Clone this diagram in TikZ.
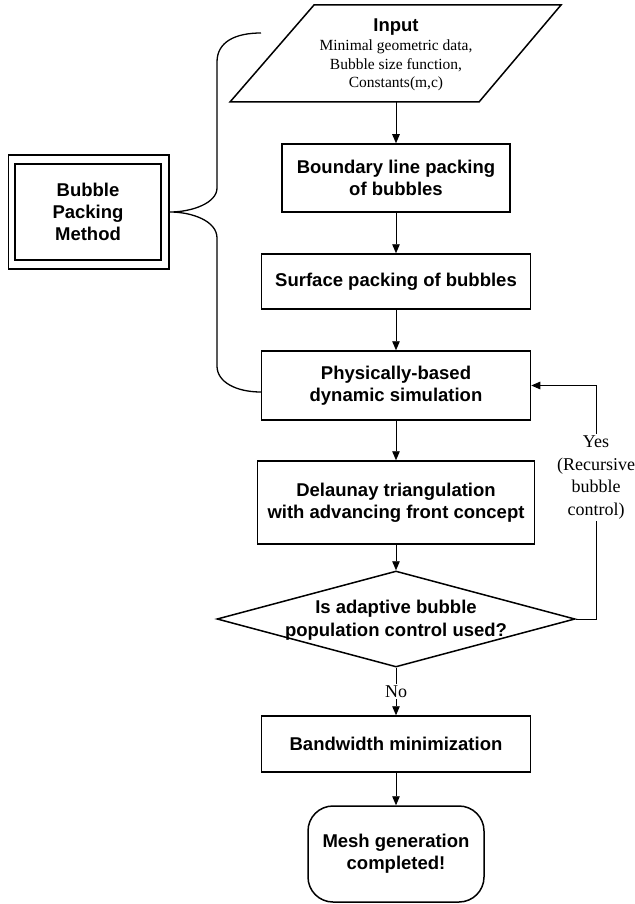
\documentclass[tikz,border=0pt]{standalone}
\usepackage{fontspec}
\setmainfont{Liberation Serif}
\newfontfamily\arialf{Liberation Sans}
\usetikzlibrary{shapes.geometric,arrows.meta}
\begin{document}
\begin{tikzpicture}[x=1pt,y=-1pt,
  boldtxt/.style={font=\arialf\bfseries\fontsize{18.5}{22}\selectfont, align=center},
  box/.style={draw, line width=1.5pt, boldtxt, inner sep=0pt},
  arr/.style={line width=0.9pt, -{Triangle[length=9pt,width=7.5pt]}},
  lbl/.style={font=\fontsize{18}{22.7}\selectfont, align=center, fill=white, inner sep=1.5pt},
  brace/.style={line width=1.3pt}]
\useasboundingbox (0,0) rectangle (634,904);

% input parallelogram
\draw[line width=1.5pt] (314,5) -- (561,5) -- (479,102) -- (230,102) -- cycle;
\node[align=center, font=\fontsize{15.5}{18.5}\selectfont] (input) at (396,55)
  {{\arialf\bfseries\fontsize{18.5}{22}\selectfont Input}\\[1pt]
   Minimal geometric data,\\Bubble size function,\\Constants(m,c)};
\coordinate (inbot) at (396,102);

% process boxes
\node[box, minimum width=228pt, minimum height=68pt] (bound) at (396,178) {Boundary line packing\\of bubbles};
\node[box, minimum width=269pt, minimum height=55pt] (surf) at (396,281.5) {Surface packing of bubbles};
\node[box, minimum width=269pt, minimum height=69pt] (phys) at (396,385.5) {Physically-based\\dynamic simulation};
\node[box, minimum width=277pt, minimum height=83pt] (dela) at (396,502.5) {Delaunay triangulation\\with advancing front concept};
\node[draw, diamond, line width=1.5pt, minimum width=358pt, minimum height=96pt, inner sep=0pt] (dec) at (396,619) {};
\node[boldtxt, font=\arialf\bfseries\fontsize{18.5}{23.5}\selectfont] (dectxt) at (396,620) {Is adaptive bubble\\population control used?};
\node[box, minimum width=269pt, minimum height=56pt] (band) at (396,744) {Bandwidth minimization};
\node[box, rounded corners=25pt, minimum width=176pt, minimum height=96pt] (mesh) at (396,854) {Mesh generation\\completed!};

% bubble packing method box (double frame)
\node[box, minimum width=146pt, minimum height=96pt] (bpm) at (88,212) {Bubble\\Packing\\Method};
\draw[line width=1.5pt] ([shift={(-6,-8)}]bpm.north west) rectangle ([shift={(7,8)}]bpm.south east);

% brace
\draw[brace] (261,33) .. controls (235,33) and (217,42) .. (217,62) -- (217,188)
  .. controls (217,203) and (192,212) .. (170,212)
  .. controls (192,212) and (217,221) .. (217,238) -- (217,366)
  .. controls (217,382) and (236,392) .. (261,392);

% connectors
\draw[arr] (inbot) -- (bound);
\draw[arr] (bound) -- (surf);
\draw[arr] (surf) -- (phys);
\draw[arr] (phys) -- (dela);
\draw[arr] (dela) -- (dec);
\draw[arr] (dec) -- node[lbl] (no) {No} (band);
\draw[arr] (band) -- (mesh);
\coordinate (yc) at (596,619);
\draw[arr] (dec.east) -- (yc) |- (phys.east);
\node[lbl] (yes) at (596,477.5) {Yes\\(Recursive\\bubble\\control)};
\end{tikzpicture}
\end{document}
